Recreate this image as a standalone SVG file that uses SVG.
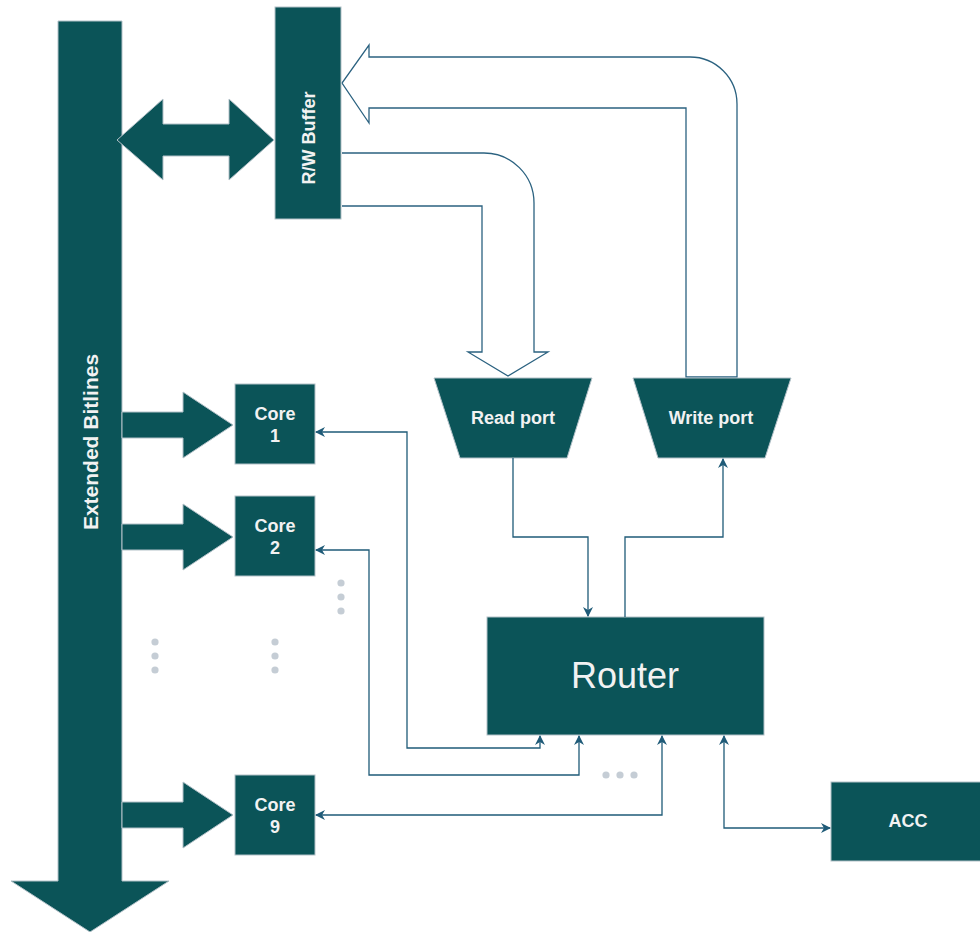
<svg xmlns="http://www.w3.org/2000/svg" width="980" height="932" viewBox="0 0 980 932">
<style>
.n{fill:#0b5458;stroke:#b3c1c8;stroke-width:1}
.t{fill:#f2f2f2;font-family:"Liberation Sans",Arial,sans-serif;font-weight:bold;text-anchor:middle}
.c{fill:none;stroke:#1f5b78;stroke-width:1.3}
.h{fill:#ffffff;stroke:#2b6280;stroke-width:1.3}
.d{fill:#c5cdd5}
</style>
<defs>
<marker id="a" viewBox="0 0 10 10" refX="9" refY="5" markerWidth="10" markerHeight="10" markerUnits="userSpaceOnUse" orient="auto-start-reverse">
<path d="M0,0 L10,5 L0,10 L3,5 Z" fill="#1f5b78"/>
</marker>
</defs>
<g id="bitlines">
<path class="n" d="M58,21 H122 V881 H169 L90,932 L11,881 H58 Z"/>
<text class="t" font-size="21" transform="translate(90,442) rotate(-90)" y="7.5">Extended Bitlines</text>
</g>
<g id="buffer-arrow">
<path class="n" d="M117,140 L163,99 V124 H229 V99 L274,140 L229,180 V156 H163 V180 Z"/>
</g>
<g id="core-arrows">
<path class="n" d="M122,412 H183 V392 L233,425 L183,458 V438 H122 Z"/>
<path class="n" d="M122,524 H183 V504 L233,537 L183,570 V550 H122 Z"/>
<path class="n" d="M122,802 H183 V782 L233,815 L183,848 V828 H122 Z"/>
</g>
<g id="hollow-arrows">
<path class="h" d="M737,377 V104 A47,47 0 0 0 690,57 H369 V45 L342,83 L369,123 V108 H686 V377 Z"/>
<path class="h" d="M342,153 H484 A50,50 0 0 1 534,203 V352 H548 L508,376 L468,352 H482 V206 H342"/>
</g>
<g id="rw-buffer">
<rect class="n" x="275" y="7" width="66" height="212"/>
<text class="t" font-size="18" transform="translate(308,138) rotate(-90)" y="6.5">R/W Buffer</text>
</g>
<g id="read-port">
<path class="n" d="M434,378 H592 L567,458 H460 Z"/>
<text class="t" font-size="18" x="513" y="424">Read port</text>
</g>
<g id="write-port">
<path class="n" d="M633,378 H791 L765,458 H658 Z"/>
<text class="t" font-size="18" x="711" y="424">Write port</text>
</g>
<g id="core1">
<rect class="n" x="235" y="384" width="80" height="80"/>
<text class="t" font-size="18" x="275" y="420">Core</text>
<text class="t" font-size="18" x="275" y="442">1</text>
</g>
<g id="core2">
<rect class="n" x="235" y="496" width="80" height="80"/>
<text class="t" font-size="18" x="275" y="532">Core</text>
<text class="t" font-size="18" x="275" y="554">2</text>
</g>
<g id="core9">
<rect class="n" x="235" y="775" width="80" height="80"/>
<text class="t" font-size="18" x="275" y="811">Core</text>
<text class="t" font-size="18" x="275" y="833">9</text>
</g>
<g id="router">
<rect class="n" x="487" y="617" width="277" height="118"/>
<text class="t" font-size="36" font-weight="normal" style="font-weight:normal" x="625" y="688">Router</text>
</g>
<g id="acc">
<rect class="n" x="831" y="782" width="155" height="79"/>
<text class="t" font-size="18" x="908" y="827">ACC</text>
</g>
<g id="dots">
<circle class="d" cx="155" cy="642" r="3.6"/><circle class="d" cx="155" cy="656" r="3.6"/><circle class="d" cx="155" cy="670" r="3.6"/>
<circle class="d" cx="275" cy="642" r="3.6"/><circle class="d" cx="275" cy="656" r="3.6"/><circle class="d" cx="275" cy="670" r="3.6"/>
<circle class="d" cx="341" cy="583" r="3.6"/><circle class="d" cx="341" cy="597" r="3.6"/><circle class="d" cx="341" cy="611" r="3.6"/>
<circle class="d" cx="606" cy="775" r="3.6"/><circle class="d" cx="620" cy="775" r="3.6"/><circle class="d" cx="634" cy="775" r="3.6"/>
</g>
<g id="connectors">
<path class="c" d="M513,458 V537 H588 V616" marker-end="url(#a)"/>
<path class="c" d="M625,617 V537 H723 V459" marker-end="url(#a)"/>
<path class="c" d="M540,736 V748 H407 V432 H316" marker-start="url(#a)" marker-end="url(#a)"/>
<path class="c" d="M579,736 V775 H369 V550 H316" marker-start="url(#a)" marker-end="url(#a)"/>
<path class="c" d="M662,736 V815 H316" marker-start="url(#a)" marker-end="url(#a)"/>
<path class="c" d="M724,736 V828 H830" marker-start="url(#a)" marker-end="url(#a)"/>
</g>
</svg>
